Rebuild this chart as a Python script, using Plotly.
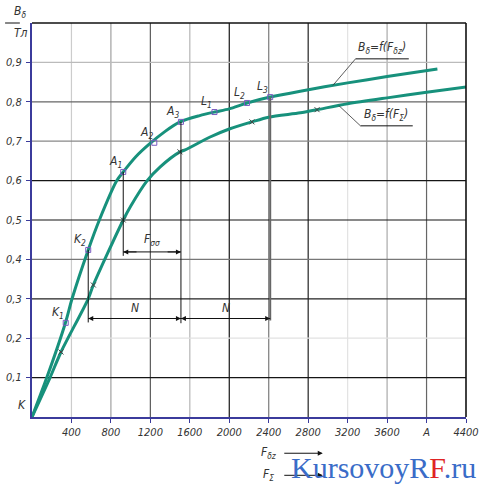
import numpy as np
import plotly.graph_objects as go

# ---------------- data ----------------
x_ticks = [400, 800, 1200, 1600, 2000, 2400, 2800, 3200, 3600, 4000, 4400]
x_tick_labels = ["400", "800", "1200", "1600", "2000", "2400", "2800", "3200", "3600", "A", "4400"]
y_ticks = [0.1, 0.2, 0.3, 0.4, 0.5, 0.6, 0.7, 0.8, 0.9]
y_tick_labels = ["0,1", "0,2", "0,3", "0,4", "0,5", "0,6", "0,7", "0,8", "0,9"]

# B_delta = f(F_delta z)  (upper curve)
gap_x = [0, 150, 340, 406, 570, 683, 860, 925, 1050, 1200, 1350, 1500, 1700, 1850, 2000, 2180, 2415, 2720, 3200, 3600, 4110]
gap_y = [0, 0.10, 0.24, 0.30, 0.424, 0.50, 0.60, 0.622, 0.66, 0.695, 0.725, 0.749, 0.765, 0.774, 0.782, 0.797, 0.812, 0.827, 0.848, 0.864, 0.883]

# B_delta = f(F_Sigma)  (lower curve)
total_x = [0, 183, 294, 570, 622, 925, 1000, 1168, 1300, 1500, 1553, 1800, 2000, 2230, 2400, 2720, 2890, 3200, 3600, 4000, 4410]
total_y = [0, 0.10, 0.165, 0.30, 0.335, 0.50, 0.535, 0.60, 0.635, 0.673, 0.678, 0.71, 0.731, 0.749, 0.761, 0.772, 0.780, 0.795, 0.81, 0.824, 0.838]

# named points on the upper curve
pt_names = ["K<sub>1</sub>", "K<sub>2</sub>", "A<sub>1</sub>", "A<sub>2</sub>", "A<sub>3</sub>", "L<sub>1</sub>", "L<sub>2</sub>", "L<sub>3</sub>"]
pt_x = [342, 570, 925, 1240, 1510, 1850, 2180, 2415]
pt_y = [0.239, 0.424, 0.622, 0.696, 0.749, 0.774, 0.797, 0.812]

# marks on the lower curve
mark_x = [294, 622, 925, 1500, 2230, 2890]
mark_y = [0.165, 0.335, 0.50, 0.673, 0.749, 0.780]

# dimension levels
n_level = 0.25
f_level = 0.419

# ---------------- styles ----------------
TEAL = "#17917c"
NAVY = "#3b3b9c"
TXT = "#333333"
FONT = "Liberation Sans Narrow, DejaVu Sans Condensed, Liberation Sans, sans-serif"
vgrid_colors = ["#cccccc", "#a0a0a0", "#5a5a5a", "#b5b5b5", "#151515", "#7a7a7a", "#222222", "#e2e2e2", "#aaaaaa", "#666666"]
hgrid_colors = ["#151515", "#e2e2e2", "#222222", "#777777", "#151515", "#151515", "#888888", "#666666", "#bbbbbb"]

fig = go.Figure()

shapes = []
for xv, c in zip(x_ticks[:-1], vgrid_colors):
    shapes.append(dict(type="line", xref="x", yref="y", x0=xv, x1=xv, y0=0, y1=1.0,
                       line=dict(color=c, width=1.2), layer="below"))
for yv, c in zip(y_ticks, hgrid_colors):
    shapes.append(dict(type="line", xref="x", yref="y", x0=0, x1=4400, y0=yv, y1=yv,
                       line=dict(color=c, width=1.2), layer="below"))
# top and right border
shapes.append(dict(type="line", xref="paper", yref="paper", x0=0, x1=1, y0=1, y1=1, line=dict(color="#111", width=1.6)))
shapes.append(dict(type="line", xref="paper", yref="paper", x0=1, x1=1, y0=0, y1=1, line=dict(color="#111", width=1.6)))

k2x, k2y = pt_x[1], pt_y[1]
a1x, a1y = pt_x[2], pt_y[2]
a3x, a3y = pt_x[4], pt_y[4]
l3x, l3y = pt_x[7], pt_y[7]

dim = dict(color="#111", width=1)
shapes += [
    dict(type="line", x0=k2x, x1=k2x, y0=k2y, y1=n_level - 0.01, line=dim),
    dict(type="line", x0=a3x, x1=a3x, y0=a3y, y1=n_level - 0.012, line=dim),
    dict(type="line", x0=l3x, x1=l3x, y0=l3y, y1=n_level - 0.005, line=dict(color="#666", width=2)),
    dict(type="line", x0=a1x, x1=a1x, y0=a1y, y1=f_level - 0.01, line=dim),
    dict(type="line", x0=k2x, x1=l3x, y0=n_level, y1=n_level, line=dim),
    dict(type="line", x0=a1x, x1=a3x, y0=f_level, y1=f_level, line=dim),
]

fig.add_trace(go.Scatter(x=total_x, y=total_y, mode="lines", line=dict(color=TEAL, width=3, shape="spline", smoothing=0.8),
                         hoverinfo="skip"))
fig.add_trace(go.Scatter(x=gap_x, y=gap_y, mode="lines", line=dict(color=TEAL, width=3, shape="spline", smoothing=0.8),
                         hoverinfo="skip"))
fig.add_trace(go.Scatter(x=pt_x, y=pt_y, mode="markers",
                         marker=dict(symbol="square-open", size=5, color="#7a5cc0", line=dict(width=1))))
fig.add_trace(go.Scatter(x=mark_x, y=mark_y, mode="markers",
                         marker=dict(symbol="x-thin-open", size=5, color="#444", line=dict(width=1))))

ann = []
lab_font = dict(family=FONT, size=12, color=TXT, style="italic")
for n, xv, yv in zip(pt_names, pt_x, pt_y):
    ann.append(dict(x=xv, y=yv, text=n, showarrow=False, xshift=-8, yshift=10, font=lab_font))
ann.append(dict(x=0, y=0, text="K", showarrow=False, xshift=-10, yshift=12, font=lab_font))

# dimension arrows
def arrow(xh, yh, xt, yt):
    return dict(x=xh, y=yh, ax=xt, ay=yt, xref="x", yref="y", axref="x", ayref="y", text="",
                showarrow=True, arrowhead=2, arrowsize=1, arrowwidth=1, arrowcolor="#111")

ann += [
    arrow(k2x, n_level, k2x + 180, n_level), arrow(a3x, n_level, a3x - 180, n_level),
    arrow(a3x, n_level, a3x + 180, n_level), arrow(l3x, n_level, l3x - 180, n_level),
    arrow(a1x, f_level, a1x + 150, f_level), arrow(a3x, f_level, a3x - 150, f_level),
]
ann.append(dict(x=(k2x + a3x) / 2, y=n_level, yshift=11, text="N", showarrow=False, font=lab_font))
ann.append(dict(x=(a3x + l3x) / 2, y=n_level, yshift=11, text="N", showarrow=False, font=lab_font))
ann.append(dict(x=(a1x + a3x) / 2, y=f_level, yshift=12, text="F<sub>σσ</sub>", showarrow=False, font=lab_font))

# legend callouts
leg1_anchor = 3050
leg2_anchor = 3110
y1a = float(np.interp(leg1_anchor, gap_x, gap_y))
y2a = float(np.interp(leg2_anchor, total_x, total_y))
shapes += [
    dict(type="line", x0=leg1_anchor, x1=3280, y0=y1a, y1=0.909, line=dict(color="#333", width=0.8)),
    dict(type="line", x0=3280, x1=3820, y0=0.909, y1=0.909, line=dict(color="#111", width=1)),
    dict(type="line", x0=leg2_anchor, x1=3330, y0=y2a, y1=0.739, line=dict(color="#333", width=0.8)),
    dict(type="line", x0=3330, x1=3860, y0=0.739, y1=0.739, line=dict(color="#111", width=1)),
]
ann.append(dict(x=3550, y=0.909, yanchor="bottom", yshift=1, text="B<sub>δ</sub>=f(F<sub>δz</sub>)", showarrow=False, font=lab_font))
ann.append(dict(x=3590, y=0.739, yanchor="bottom", yshift=1, text="B<sub>δ</sub>=f(F<sub>Σ</sub>)", showarrow=False, font=lab_font))

# y axis title as a fraction
ann.append(dict(xref="paper", yref="paper", x=-0.045, y=1.0, yanchor="bottom", yshift=1, text="B<sub>δ</sub>",
                showarrow=False, font=lab_font))
ann.append(dict(xref="paper", yref="paper", x=-0.045, y=1.0, yanchor="top", yshift=-1, text="Тл",
                showarrow=False, font=lab_font))
shapes.append(dict(type="line", xref="paper", yref="paper", x0=-0.062, x1=-0.028, y0=1.0, y1=1.0,
                   line=dict(color="#111", width=1)))

# x axis names with arrows
ann.append(dict(xref="paper", yref="paper", x=0.545, y=-0.118, text="F<sub>δz</sub>", showarrow=False, font=lab_font))
ann.append(dict(xref="paper", yref="paper", x=0.545, y=-0.172, text="F<sub>Σ</sub>", showarrow=False, font=lab_font))
for yy in (-0.092, -0.148):
    ann.append(dict(xref="paper", yref="paper", axref="pixel", ayref="pixel", x=0.67, y=yy, ax=-40, ay=0,
                    text="", showarrow=True, arrowhead=2, arrowwidth=1, arrowcolor="#111"))

# watermark
ann.append(dict(xref="paper", yref="paper", x=0.81, y=-0.127, xanchor="center", yanchor="middle",
                text="<span style='color:#3a6cc8'>KursovoyR</span><span style='color:#e02424'>F</span><span style='color:#3a6cc8'>.ru</span>",
                showarrow=False, font=dict(family="Liberation Serif, DejaVu Serif, serif", size=30)))

axis_common = dict(showgrid=False, zeroline=False, showline=True, linecolor=NAVY, linewidth=2,
                   ticks="outside", ticklen=4, tickcolor=NAVY, tickwidth=1, automargin=False,
                   tickfont=dict(family=FONT, size=11, color=TXT, style="italic"))

fig.update_layout(
    width=480, height=485,
    margin=dict(l=32, r=14, t=23, b=68, autoexpand=False),
    plot_bgcolor="white", paper_bgcolor="white",
    showlegend=False,
    shapes=shapes, annotations=ann,
    xaxis=dict(range=[0, 4400], tickvals=x_ticks, ticktext=x_tick_labels, **axis_common),
    yaxis=dict(range=[0, 1.0], tickvals=y_ticks, ticktext=y_tick_labels, ticklabelstandoff=2, **axis_common),
)

fig.write_html("out.html", config={"displayModeBar": False},
               post_script="document.body.style.margin='0px';document.body.style.overflow='hidden';")
